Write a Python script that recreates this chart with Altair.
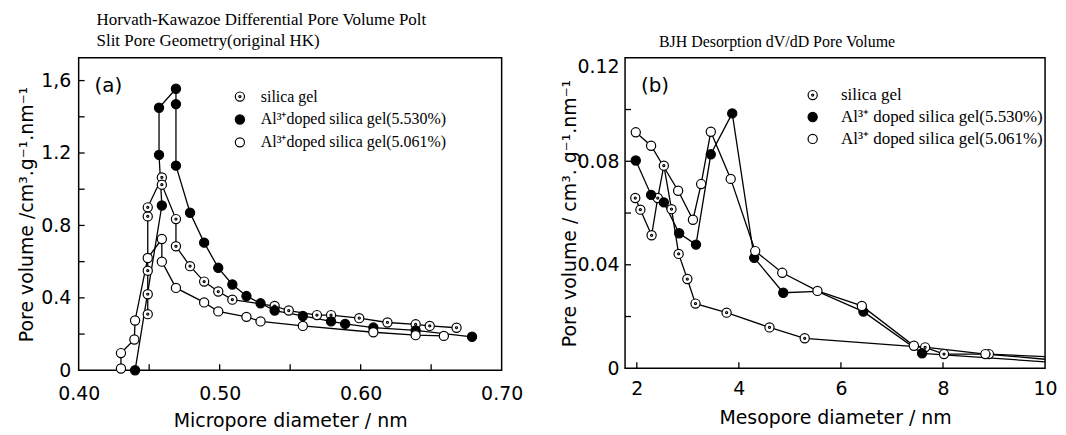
import altair as alt
import pandas as pd

# ---------------- Panel (a): Horvath-Kawazoe ----------------
A_SERIES = ["silica gel", "Al³⁺doped silica gel(5.530%)", "Al³⁺doped silica gel(5.061%)"]

A_SG_X = [0.449, 0.449, 0.449, 0.449, 0.449, 0.459, 0.459, 0.469, 0.469, 0.479, 0.489,
          0.499, 0.509, 0.539, 0.549, 0.569, 0.579, 0.599, 0.619, 0.639, 0.649, 0.668]
A_SG_Y = [0.31, 0.42, 0.55, 0.85, 0.90, 1.065, 1.025, 0.835, 0.685, 0.575, 0.49,
          0.435, 0.39, 0.355, 0.33, 0.305, 0.305, 0.288, 0.264, 0.254, 0.245, 0.235]

A_F_X = [0.440, 0.459, 0.457, 0.457, 0.469, 0.469, 0.469, 0.479, 0.489, 0.499, 0.509,
         0.519, 0.529, 0.539, 0.559, 0.579, 0.589, 0.609, 0.639, 0.679]
A_F_Y = [0.0, 0.91, 1.19, 1.45, 1.555, 1.47, 1.13, 0.87, 0.705, 0.566, 0.474,
         0.41, 0.37, 0.33, 0.30, 0.27, 0.256, 0.236, 0.22, 0.185]

A_O_X = [0.430, 0.430, 0.4395, 0.440, 0.449, 0.459, 0.459, 0.469, 0.489, 0.499, 0.519,
         0.529, 0.559, 0.609, 0.639, 0.659]
A_O_Y = [0.01, 0.095, 0.17, 0.275, 0.62, 0.725, 0.60, 0.455, 0.375, 0.325, 0.295,
         0.27, 0.245, 0.21, 0.194, 0.19]

A_XLABELS = [0.40, 0.50, 0.60, 0.70]
A_XTICKS = [0.45, 0.50, 0.55, 0.60, 0.65]
A_YLABELS = [0.0, 0.4, 0.8, 1.2, 1.6]
A_YTICKS = [0.2, 0.4, 0.6, 0.8, 1.0, 1.2, 1.4, 1.6]

# ---------------- Panel (b): BJH desorption ----------------
B_SERIES = ["silica gel", "Al³⁺ doped silica gel(5.530%)", "Al³⁺ doped silica gel(5.061%)"]

B_SG_X = [1.97, 2.07, 2.29, 2.41, 2.53, 2.68, 2.82, 2.99, 3.15, 3.76, 4.60, 5.29, 7.65, 8.02, 8.90, 10.0]
B_SG_Y = [0.0658, 0.0613, 0.0514, 0.0658, 0.0783, 0.0615, 0.0442, 0.0345, 0.025, 0.0215,
          0.0158, 0.0116, 0.0081, 0.0055, 0.0055, 0.0045]
B_SG_M = [1, 1, 1, 1, 1, 1, 1, 1, 1, 1, 1, 1, 1, 1, 1, 0]

B_F_X = [1.98, 2.28, 2.53, 2.83, 3.16, 3.45, 3.87, 4.30, 4.87, 5.54, 6.44, 7.59, 10.0]
B_F_Y = [0.0803, 0.067, 0.0641, 0.0522, 0.0478, 0.0827, 0.0985, 0.0427, 0.0292, 0.0297,
         0.0219, 0.0058, 0.0025]
B_F_M = [1, 1, 1, 1, 1, 1, 1, 1, 1, 0, 1, 1, 0]

B_O_X = [1.98, 2.28, 2.81, 3.10, 3.26, 3.45, 3.84, 4.32, 4.85, 5.54, 6.41, 7.43, 8.83, 10.0]
B_O_Y = [0.0912, 0.086, 0.0686, 0.0574, 0.0712, 0.0914, 0.0732, 0.0453, 0.0369, 0.0299,
         0.0241, 0.0087, 0.0055, 0.0035]
B_O_M = [1, 1, 1, 1, 1, 1, 1, 1, 1, 1, 1, 1, 1, 0]

B_XLABELS = [2, 4, 6, 8, 10]
B_XTICKS = [2, 4, 6, 8]
B_YLABELS = [0.0, 0.04, 0.08, 0.12]
B_YTICKS = [0.02, 0.04, 0.06, 0.08, 0.10]

DOT = ("M-1,0A1,1,0,1,1,1,0A1,1,0,1,1,-1,0Z"
       "M-0.22,0A0.22,0.22,0,1,1,0.22,0A0.22,0.22,0,1,1,-0.22,0Z")

AXIS_FONT = "DejaVu Sans"
SERIF = "Liberation Serif"


def build(names, xs, ys, ms):
    rows = []
    for n, X, Y, M in zip(names, xs, ys, ms):
        for i, (x, y, m) in enumerate(zip(X, Y, M)):
            rows.append({"series": n, "x": x, "y": y, "i": i, "m": m})
    return pd.DataFrame(rows)


def panel(df, names, W, H, xdom, ydom, xlabels, xticks, ylabels, yticks,
          xfmt, yexpr, ytop, xtitle, ytitle, legend, title, tag, ypads, xpads):
    xs = alt.Scale(domain=xdom, nice=False, zero=False)
    ys = alt.Scale(domain=ydom, nice=False, zero=False)
    xaxis = alt.Axis(values=xlabels, format=xfmt, title=xtitle, labelFlush=False,
                     labelPadding=xpads[0], titlePadding=xpads[1])
    yaxis = alt.Axis(values=ylabels, labelExpr=yexpr, title=ytitle, labelPadding=ypads[0],
                     titlePadding=ypads[1], labelFlush=False,
                     labelBaseline={"condition": {"test": f"datum.value >= {ytop}", "value": "top"},
                                    "value": "middle"})
    shape = alt.Shape("series:N", scale=alt.Scale(domain=names, range=[DOT, "circle", "circle"]),
                      legend=legend, title=None)
    fill = alt.Fill("series:N", scale=alt.Scale(domain=names, range=["white", "black", "white"]),
                    legend=legend, title=None)
    stroke = alt.Stroke("series:N", scale=alt.Scale(domain=names, range=["black", "black", "black"]),
                        legend=legend, title=None)

    lines = alt.Chart(df).mark_line(color="black", strokeWidth=1.3).encode(
        x=alt.X("x:Q", scale=xs, axis=xaxis),
        y=alt.Y("y:Q", scale=ys, axis=yaxis),
        detail="series:N",
        order="i:Q",
    )
    pts = alt.Chart(df).transform_filter("datum.m == 1").mark_point(
        filled=True, strokeWidth=1.2, size=85, opacity=1
    ).encode(
        x=alt.X("x:Q", scale=xs),
        y=alt.Y("y:Q", scale=ys),
        shape=shape,
        fill=fill,
        stroke=stroke,
    )
    xt = alt.Chart(pd.DataFrame({"t": xticks})).mark_rule(color="black", strokeWidth=1.3).encode(
        x=alt.X("t:Q", scale=xs), y=alt.value(H), y2=alt.value(H - 6)
    )
    yt = alt.Chart(pd.DataFrame({"t": yticks})).mark_rule(color="black", strokeWidth=1.3).encode(
        y=alt.Y("t:Q", scale=ys), x=alt.value(0), x2=alt.value(6)
    )
    lab = alt.Chart(pd.DataFrame({"s": [tag]})).mark_text(
        font=AXIS_FONT, fontSize=20, color="black", align="left", baseline="middle"
    ).encode(text="s:N", x=alt.value(16), y=alt.value(28))
    return alt.layer(lines, xt, yt, lab, pts).properties(width=W, height=H, title=title)


dfa = build(A_SERIES, [A_SG_X, A_F_X, A_O_X], [A_SG_Y, A_F_Y, A_O_Y],
            [[1] * len(A_SG_X), [1] * len(A_F_X), [1] * len(A_O_X)])
dfb = build(B_SERIES, [B_SG_X, B_F_X, B_O_X], [B_SG_Y, B_F_Y, B_O_Y], [B_SG_M, B_F_M, B_O_M])

leg_a = alt.Legend(orient="none", legendX=154, legendY=31, rowPadding=7, labelOffset=13,
                   labelLimit=400, labelFontSize=16)
leg_b = alt.Legend(orient="none", legendX=180, legendY=29, rowPadding=4, labelOffset=20,
                   labelLimit=400, labelFontSize=17)

title_a = alt.TitleParams(
    ["Horvath-Kawazoe Differential Pore Volume Polt", "Slit Pore Geometry(original HK)"],
    anchor="start", frame="group", dx=18, font=SERIF, fontSize=17, fontWeight="normal",
    lineHeight=21, offset=8, color="black")
title_b = alt.TitleParams("BJH Desorption dV/dD Pore Volume", anchor="start", frame="group",
                          dx=34, font=SERIF, fontSize=16, fontWeight="normal", offset=8,
                          color="black")

pa = panel(dfa, A_SERIES, 425, 314, [0.40, 0.70], [0, 1.726], A_XLABELS, A_XTICKS,
           A_YLABELS, A_YTICKS, ".2f",
           "datum.value == 0 ? '0' : (datum.value > 1.5 ? '1,6' : format(datum.value, '.1f'))",
           9, "Micropore diameter / nm", "Pore volume /cm³.g⁻¹.nm⁻¹", leg_a, title_a, "(a)",
           (8, 4), (14, 8))
pb = panel(dfb, B_SERIES, 422, 312, [1.77, 10], [0, 0.12], B_XLABELS, B_XTICKS,
           B_YLABELS, B_YTICKS, "d",
           "datum.value == 0 ? '0' : format(datum.value, '.2f')",
           0.119, "Mesopore diameter / nm", "Pore volume / cm³. g⁻¹.nm⁻¹", leg_b, title_b, "(b)",
           (6, -3), (11, 10))

chart = alt.hconcat(pa, pb, spacing=36).resolve_scale(
    shape="independent", fill="independent", stroke="independent"
).resolve_legend(
    shape="independent", fill="independent", stroke="independent"
).properties(
    padding={"left": 9, "top": 1, "right": 0, "bottom": 0}, background="white"
).configure_axis(
    labelFont=AXIS_FONT, titleFont=AXIS_FONT, labelFontSize=19, titleFontSize=19,
    titleFontWeight="normal", labelColor="black", titleColor="black",
    grid=False, ticks=False, domain=False,
).configure_view(
    stroke="black", strokeWidth=1.5
).configure_legend(
    labelFont=SERIF, labelColor="black", padding=0,
    symbolStrokeWidth=1.2, symbolSize=85,
)

chart.save("out.html", embed_options={"renderer": "svg", "actions": False})
